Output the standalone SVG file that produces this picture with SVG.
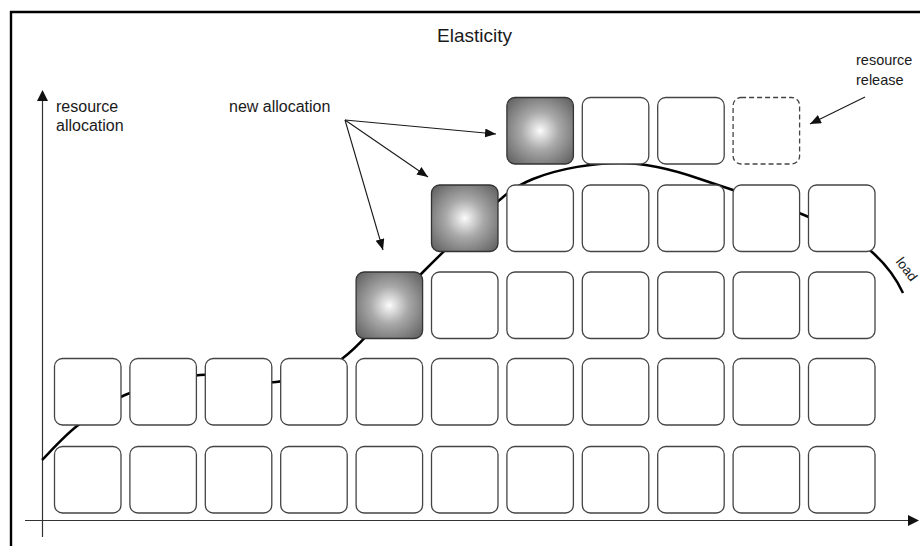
<svg xmlns="http://www.w3.org/2000/svg" width="920" height="546" viewBox="0 0 920 546">
<style>
.lbl{font-family:"Liberation Sans",Arial,sans-serif;font-size:16px;fill:#1a1a1a}
.box{fill:#fff;stroke:#444;stroke-width:1.3}
.new{fill:url(#glow);stroke:#333;stroke-width:1.3}
.rel{fill:#fff;stroke:#444;stroke-width:1.3;stroke-dasharray:5 3}
.ax{stroke:#333;stroke-width:1.2;fill:none}
.ptr{stroke:#1a1a1a;stroke-width:1.1;fill:none;marker-end:url(#ah)}
</style>
<defs>
<radialGradient id="glow" cx="50%" cy="50%" r="71%">
<stop offset="0" stop-color="#fcfcfc"/>
<stop offset="0.1" stop-color="#e6e6e6"/>
<stop offset="0.4" stop-color="#a9a9a9"/>
<stop offset="0.75" stop-color="#7a7a7a"/>
<stop offset="1" stop-color="#585858"/>
</radialGradient>
<marker id="ah" markerUnits="userSpaceOnUse" markerWidth="12" markerHeight="10" refX="11" refY="4.5" orient="auto">
<path d="M0,0 L11,4.5 L0,9 z" fill="#111"/>
</marker>
<rect id="b" width="66.5" height="66.5" rx="8" ry="8"/>
</defs>
<rect width="920" height="546" fill="#fff"/>
<g id="frame" stroke="#000" stroke-width="2.4">
<line x1="10" y1="12" x2="920" y2="12"/>
<line x1="11" y1="11" x2="11" y2="546"/>
</g>
<text class="lbl" x="474.5" y="42" text-anchor="middle" style="font-size:19px">Elasticity</text>
<g id="axes">
<line class="ax" x1="42.5" y1="537" x2="42.5" y2="99"/>
<path d="M42.5,90 L48,101 L37,101 z" fill="#111"/>
<line class="ax" x1="25" y1="520.5" x2="909" y2="520.5"/>
<path d="M919,520.5 L908,515 L908,526 z" fill="#111"/>
</g>
<g id="load-curve">
<path d="M42,460 C47.8,454.3 63.2,436.8 77,426 C90.8,415.2 104.5,403.5 125,395 C145.5,386.5 174.8,377.2 200,375 C225.2,372.8 252.2,384.8 276,382 C299.8,379.2 318.5,376.3 343,358 C367.5,339.7 396.5,298.7 423,272 C449.5,245.3 486,211 502,198 C512,189 522,183.5 533,179 C560,168 595,163 620,163 C650,163 680,172 700,179 C735,191 775,203 804,215 C830,226 855,237 872,252 C884,262.6 896,278 903,293" fill="none" stroke="#000" stroke-width="2.5"/>
<text class="lbl" x="0" y="0" style="font-size:13.5px" text-anchor="middle" transform="translate(903,272) rotate(53)">load</text>
</g>
<g id="row0">
<use href="#b" class="box" x="54.5" y="446.5"/>
<use href="#b" class="box" x="129.9" y="446.5"/>
<use href="#b" class="box" x="205.3" y="446.5"/>
<use href="#b" class="box" x="280.7" y="446.5"/>
<use href="#b" class="box" x="356.1" y="446.5"/>
<use href="#b" class="box" x="431.5" y="446.5"/>
<use href="#b" class="box" x="506.9" y="446.5"/>
<use href="#b" class="box" x="582.3" y="446.5"/>
<use href="#b" class="box" x="657.7" y="446.5"/>
<use href="#b" class="box" x="733.1" y="446.5"/>
<use href="#b" class="box" x="808.5" y="446.5"/>
</g>
<g id="row1">
<use href="#b" class="box" x="54.5" y="358.5"/>
<use href="#b" class="box" x="129.9" y="358.5"/>
<use href="#b" class="box" x="205.3" y="358.5"/>
<use href="#b" class="box" x="280.7" y="358.5"/>
<use href="#b" class="box" x="356.1" y="358.5"/>
<use href="#b" class="box" x="431.5" y="358.5"/>
<use href="#b" class="box" x="506.9" y="358.5"/>
<use href="#b" class="box" x="582.3" y="358.5"/>
<use href="#b" class="box" x="657.7" y="358.5"/>
<use href="#b" class="box" x="733.1" y="358.5"/>
<use href="#b" class="box" x="808.5" y="358.5"/>
</g>
<g id="row2">
<use href="#b" class="new" x="356.1" y="272"/>
<use href="#b" class="box" x="431.5" y="272"/>
<use href="#b" class="box" x="506.9" y="272"/>
<use href="#b" class="box" x="582.3" y="272"/>
<use href="#b" class="box" x="657.7" y="272"/>
<use href="#b" class="box" x="733.1" y="272"/>
<use href="#b" class="box" x="808.5" y="272"/>
</g>
<g id="row3">
<use href="#b" class="new" x="431.5" y="185"/>
<use href="#b" class="box" x="506.9" y="185"/>
<use href="#b" class="box" x="582.3" y="185"/>
<use href="#b" class="box" x="657.7" y="185"/>
<use href="#b" class="box" x="733.1" y="185"/>
<use href="#b" class="box" x="808.5" y="185"/>
</g>
<g id="row4">
<use href="#b" class="new" x="506.9" y="97.5"/>
<use href="#b" class="box" x="582.3" y="97.5"/>
<use href="#b" class="box" x="657.7" y="97.5"/>
<use href="#b" class="rel" x="733.1" y="97.5"/>
</g>
<g id="label-resource-allocation">
<text class="lbl" x="56" y="111.5">resource</text>
<text class="lbl" x="56" y="130.5">allocation</text>
</g>
<g id="label-new-allocation">
<text class="lbl" x="229" y="112">new allocation</text>
</g>
<g id="label-resource-release">
<text class="lbl" x="856" y="65" style="font-size:14.5px">resource</text>
<text class="lbl" x="856" y="85" style="font-size:14.5px">release</text>
</g>
<g id="connectors">
<line class="ptr" x1="345" y1="120" x2="496" y2="134"/>
<line class="ptr" x1="345" y1="120" x2="428" y2="177"/>
<line class="ptr" x1="345" y1="120" x2="383" y2="250"/>
<line class="ptr" x1="865" y1="97" x2="810" y2="124"/>
</g>
</svg>
